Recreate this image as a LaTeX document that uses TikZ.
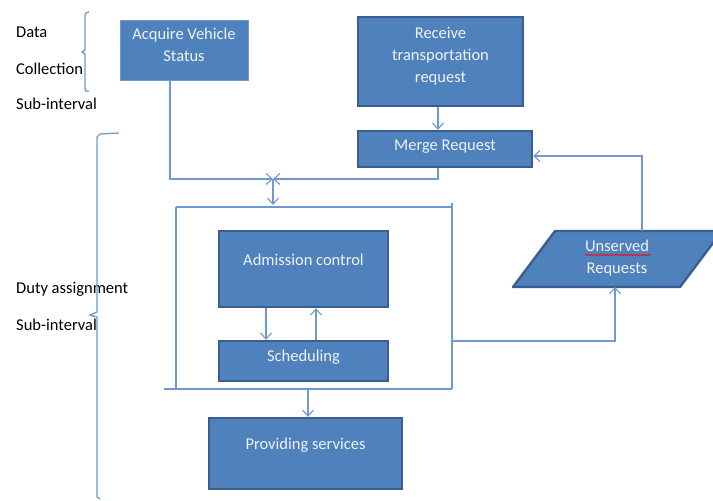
\documentclass[tikz,border=0pt]{standalone}
\usepackage{fontspec}
\setmainfont{Carlito}
\usetikzlibrary{arrows.meta,calc,decorations.pathmorphing}
\definecolor{boxfill}{HTML}{4F81BD}
\definecolor{boxedge}{HTML}{3A5F8E}
\definecolor{conn}{HTML}{7099CF}
\definecolor{boxtext}{HTML}{EEF3FA}
\begin{document}
\begin{tikzpicture}[x=1pt,y=-1pt,
  box/.style={fill=boxfill,draw=boxedge,line width=2.4pt,inner sep=0pt},
  lightbox/.style={fill=boxfill,draw=conn,line width=0.8pt,inner sep=0pt},
  btxt/.style={text=boxtext,align=center,font=\fontsize{16.5}{22}\selectfont,inner sep=0pt},
  lbl/.style={anchor=west,font=\fontsize{16.5}{22}\selectfont,inner sep=0pt},
  wire/.style={draw=conn,line width=1.3pt},
  arr/.style={wire,-{Straight Barb[length=6pt,width=11pt,line width=1.1pt]}}]
\useasboundingbox (0,0) rectangle (713,501);
\clip (0,0) rectangle (713,501);
\fill[white] (0,0) rectangle (713,501);

% left labels
\node[lbl] (data) at (16,32) {Data};
\node[lbl] (coll) at (16,69) {Collection};
\node[lbl] (sub1) at (16,104) {Sub-interval};
\node[lbl] (duty) at (16,289) {Duty assignment};
\node[lbl] (sub2) at (16,325) {Sub-interval};

% braces
\draw[wire] (89,12) -- (86,13) -- (85,15) -- (85,50) -- (82,52) -- (85,54) -- (85,89) -- (86,91) -- (89,91);
\draw[wire] (119,133) -- (100,134) -- (97,137) -- (97,312) -- (90,315) -- (97,317) -- (97,497) -- (100,499);

% boxes
\node[lightbox,minimum width=128pt,minimum height=60pt] (acq) at (184,50) {};
\node[btxt] (acqt) at (184,44.5) {Acquire Vehicle\\Status};
\node[box,minimum width=165pt,minimum height=89pt] (recv) at (440.5,61.5) {};
\node[btxt] (recvt) at (440.5,56) {Receive\\transportation\\request};
\node[box,minimum width=174pt,minimum height=36pt] (merge) at (445,149) {};
\node[btxt] (merget) at (445,147) {Merge Request};
\node[box,minimum width=169pt,minimum height=76pt] (adm) at (303.5,269) {};
\node[btxt] (admt) at (303.5,260) {Admission control};
\node[box,minimum width=169pt,minimum height=40pt] (sched) at (303.5,361) {};
\node[btxt] (schedt) at (303.5,357) {Scheduling};
\node[box,minimum width=193pt,minimum height=71pt] (prov) at (305.5,453.5) {};
\node[btxt] (provt) at (305.5,445) {Providing services};

% unserved parallelogram
\draw[fill=boxfill,draw=boxedge,line width=2.4pt,line join=round] (513,287) -- (555,231) -- (722,231) -- (680,287) -- cycle;
\node[btxt] (unst) at (617,258.5) {Unserved\\Requests};
\draw[red,line width=0.6pt,decorate,decoration={snake,amplitude=0.8pt,segment length=3pt}] (585,255) -- (651,255);
\coordinate (unsbot) at (615,287);
\coordinate (unstop) at (642,231);

% frame
\coordinate (ftl) at (176,207);
\coordinate (ftr) at (452,207);
\coordinate (fbl) at (176,389);
\coordinate (fbr) at (452,389);
\draw[wire] (ftl) -- (ftr);
\draw[wire] (452,203) -- (fbr);
\draw[wire] (ftl) -- (fbl);
\draw[wire] (164,389) -- (fbr);

% connectors
\coordinate (j) at (273,179);
\draw[arr] ([xshift=-14pt]acq.south) |- (j);
\draw[arr] ([xshift=-7pt]merge.south) |- (j);
\draw[arr] (j) -- (273,205);
\draw[arr] (recv.south -| 438,0) -- (merge.north -| 438,0);
\draw[arr] ([xshift=-37.5pt]adm.south) -- ([xshift=-37.5pt]sched.north);
\draw[arr] ([xshift=12.5pt]sched.north) -- ([xshift=12.5pt]adm.south);
\coordinate (fbot) at (308,389);
\draw[arr] (fbot) -- (fbot |- prov.north);
\coordinate (fr) at (452,341);
\draw[arr] (fr) -| (unsbot);
\draw[arr] (unstop) |- ([yshift=-7pt]merge.east);
\end{tikzpicture}
\end{document}
